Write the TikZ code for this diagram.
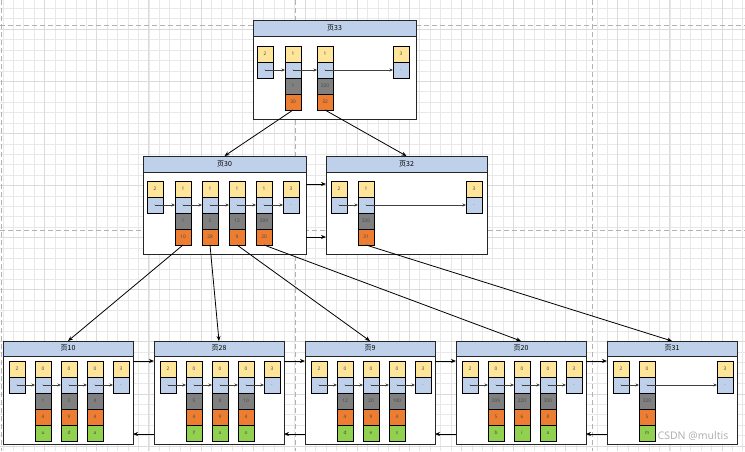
\documentclass[tikz,border=0pt]{standalone}
\usepackage{fontspec}
\setmainfont{Noto Sans}
\newfontfamily\cjk{Noto Sans CJK SC}
\usetikzlibrary{positioning}
\usetikzlibrary{arrows.meta}
\definecolor{hdblue}{RGB}{191,209,234}
\definecolor{ylw}{RGB}{255,229,153}
\definecolor{orng}{RGB}{237,125,49}
\definecolor{grn}{RGB}{146,208,80}
\definecolor{gry}{RGB}{128,128,128}
\tikzstyle{pagebody} = [rectangle, draw=black!85, line width=0.9pt, fill=white, anchor=north west, inner sep=0pt, outer sep=0pt]
\tikzstyle{pagehead} = [rectangle, draw=black!85, line width=0.9pt, fill=hdblue, anchor=north west, minimum height=16pt, inner sep=0pt, outer sep=0pt, font=\cjk\fontsize{7}{8}\selectfont]
\tikzstyle{cell} = [rectangle, draw=black, line width=0.7pt, minimum width=16pt, minimum height=16pt, inner sep=0pt, outer sep=0pt, text=black!70, font=\fontsize{4.8}{5}\selectfont]
\tikzstyle{ylwcell} = [cell, fill=ylw]
\tikzstyle{blucell} = [cell, fill=hdblue]
\tikzstyle{grycell} = [cell, fill=gry]
\tikzstyle{orgcell} = [cell, fill=orng]
\tikzstyle{grncell} = [cell, fill=grn]
\tikzstyle{nxt} = [-{Stealth[length=3.5pt,width=3pt]}, line width=0.8pt, black!75]
\tikzstyle{link} = [-{Stealth[length=5pt,width=4pt]}, line width=0.8pt, black]
\tikzstyle{gridminor} = [line width=0.5pt, black!9]
\tikzstyle{gridmajor} = [line width=0.6pt, black!14]
\tikzstyle{pagebreak} = [line width=0.6pt, black!30, dash pattern=on 5pt off 3pt]
% infimum / supremum
\newcommand{\bnd}[4]{%
  \node[ylwcell] (#1) at (#2,#3) {#4};
  \node[blucell, below=0pt of #1] (#1n) {\textbf{·}};}
% record of a non-leaf page
\newcommand{\irec}[6]{%
  \bnd{#1}{#2}{#3}{#4}
  \node[grycell, below=0pt of #1n] (#1k) {#5};
  \node[orgcell, below=0pt of #1k] (#1c) {#6};}
% record of a leaf page
\newcommand{\lrec}[7]{%
  \irec{#1}{#2}{#3}{#4}{#5}{#6}
  \node[grncell, below=0pt of #1c] (#1v) {#7};}

\begin{document}
\begin{tikzpicture}[x=1pt,y=-1pt]
  \useasboundingbox (0,0) rectangle (745,451);
  \fill[white] (0,0) rectangle (745,451);
  \foreach \k in {-1,...,70} \draw[gridminor] ({13.3+10.42*\k},0) -- ++(0,451);
  \foreach \k in {-1,...,42} \draw[gridminor] (0,{8.3+10.42*\k}) -- ++(745,0);
  \foreach \k in {3,8,...,68} \draw[gridmajor] ({13.3+10.42*\k},0) -- ++(0,451);
  \foreach \k in {2,7,...,42} \draw[gridmajor] (0,{8.3+10.42*\k}) -- ++(745,0);
  \draw[pagebreak] (1,0) -- (1,451);
  \draw[pagebreak] (295,0) -- (295,451);
  \draw[pagebreak] (592,0) -- (592,451);
  \draw[pagebreak] (0,25) -- (745,25);
  \draw[pagebreak] (0,230.7) -- (745,230.7);

  % root
  \node[pagebody, minimum width=163pt, minimum height=99pt] (p33) at (253,20) {};
  \node[pagehead, minimum width=163pt] (p33h) at (253,20) {页33};
  \bnd{p33a}{265}{54}{2}
  \irec{p33b}{293}{54}{1}{1}{30}
  \irec{p33c}{325}{54}{1}{320}{32}
  \bnd{p33d}{401}{54}{3}
  \draw[nxt] (p33an.center) -- (p33bn.west);
  \draw[nxt] (p33bn.center) -- (p33cn.west);
  \draw[nxt] (p33cn.center) -- (p33dn.west);

  % level 1
  \node[pagebody, minimum width=163pt, minimum height=98pt] (p30) at (143,156) {};
  \node[pagehead, minimum width=163pt] (p30h) at (143,156) {页30};
  \bnd{p30a}{155}{189}{2}
  \irec{p30b}{183}{189}{1}{1}{10}
  \irec{p30c}{210}{189}{1}{5}{28}
  \irec{p30d}{237}{189}{1}{12}{9}
  \irec{p30e}{264}{189}{1}{209}{20}
  \bnd{p30f}{291}{189}{3}
  \draw[nxt] (p30an.center) -- (p30bn.west);
  \draw[nxt] (p30bn.center) -- (p30cn.west);
  \draw[nxt] (p30cn.center) -- (p30dn.west);
  \draw[nxt] (p30dn.center) -- (p30en.west);
  \draw[nxt] (p30en.center) -- (p30fn.west);

  \node[pagebody, minimum width=161pt, minimum height=98pt] (p32) at (326,156) {};
  \node[pagehead, minimum width=161pt] (p32h) at (326,156) {页32};
  \bnd{p32a}{339}{189}{2}
  \irec{p32b}{366}{189}{1}{320}{31}
  \bnd{p32c}{474}{189}{3}
  \draw[nxt] (p32an.center) -- (p32bn.west);
  \draw[nxt] (p32bn.center) -- (p32cn.west);

  % leaves
  \node[pagebody, minimum width=130pt, minimum height=103pt] (p10) at (3,341) {};
  \node[pagehead, minimum width=130pt, minimum height=15pt] (p10h) at (3,341) {页10};
  \bnd{p10a}{17}{369}{2}
  \lrec{p10b}{43}{369}{0}{1}{4}{u}
  \lrec{p10c}{69}{369}{0}{3}{9}{d}
  \lrec{p10d}{95}{369}{0}{4}{4}{a}
  \bnd{p10e}{121}{369}{3}
  \draw[nxt] (p10an.center) -- (p10bn.west);
  \draw[nxt] (p10bn.center) -- (p10cn.west);
  \draw[nxt] (p10cn.center) -- (p10dn.west);
  \draw[nxt] (p10dn.center) -- (p10en.west);

  \node[pagebody, minimum width=130pt, minimum height=103pt] (p28) at (154,341) {};
  \node[pagehead, minimum width=130pt, minimum height=15pt] (p28h) at (154,341) {页28};
  \bnd{p28a}{168}{369}{2}
  \lrec{p28b}{194}{369}{0}{5}{4}{y}
  \lrec{p28c}{220}{369}{0}{8}{9}{a}
  \lrec{p28d}{246}{369}{0}{10}{4}{o}
  \bnd{p28e}{272}{369}{3}
  \draw[nxt] (p28an.center) -- (p28bn.west);
  \draw[nxt] (p28bn.center) -- (p28cn.west);
  \draw[nxt] (p28cn.center) -- (p28dn.west);
  \draw[nxt] (p28dn.center) -- (p28en.west);

  \node[pagebody, minimum width=130pt, minimum height=103pt] (p9) at (305,341) {};
  \node[pagehead, minimum width=130pt, minimum height=15pt] (p9h) at (305,341) {页9};
  \bnd{p9a}{319}{369}{2}
  \lrec{p9b}{345}{369}{0}{12}{4}{d}
  \lrec{p9c}{371}{369}{0}{20}{9}{e}
  \lrec{p9d}{397}{369}{0}{100}{4}{s}
  \bnd{p9e}{423}{369}{3}
  \draw[nxt] (p9an.center) -- (p9bn.west);
  \draw[nxt] (p9bn.center) -- (p9cn.west);
  \draw[nxt] (p9cn.center) -- (p9dn.west);
  \draw[nxt] (p9dn.center) -- (p9en.west);

  \node[pagebody, minimum width=130pt, minimum height=103pt] (p20) at (456,341) {};
  \node[pagehead, minimum width=130pt, minimum height=15pt] (p20h) at (456,341) {页20};
  \bnd{p20a}{470}{369}{2}
  \lrec{p20b}{496}{369}{0}{209}{5}{b}
  \lrec{p20c}{522}{369}{0}{220}{6}{i}
  \lrec{p20d}{548}{369}{0}{300}{8}{a}
  \bnd{p20e}{574}{369}{3}
  \draw[nxt] (p20an.center) -- (p20bn.west);
  \draw[nxt] (p20bn.center) -- (p20cn.west);
  \draw[nxt] (p20cn.center) -- (p20dn.west);
  \draw[nxt] (p20dn.center) -- (p20en.west);

  \node[pagebody, minimum width=130pt, minimum height=103pt] (p31) at (607,341) {};
  \node[pagehead, minimum width=130pt, minimum height=15pt] (p31h) at (607,341) {页31};
  \bnd{p31a}{621}{369}{2}
  \lrec{p31b}{647}{369}{0}{320}{5}{m}
  \bnd{p31c}{725}{369}{3}
  \draw[nxt] (p31an.center) -- (p31bn.west);
  \draw[nxt] (p31bn.center) -- (p31cn.west);

  % child pointers
  \draw[link] (p33bc.south) -- (p30.north);
  \draw[link] (p33cc.south) -- (p32.north);
  \draw[link] (p30bc.south) -- (p10.north);
  \draw[link] (p30cc.south) -- (p28.north);
  \draw[link] (p30dc.south) -- (p9.north);
  \draw[link] (p30ec.south) -- (p20.north);
  \draw[link] (p32bc.south) -- (p31.north);

  % sibling links
  \draw[link] ([yshift=-28pt]p30.north east) -- ([yshift=-28pt]p32.north west);
  \draw[link] ([yshift=-81pt]p30.north east) -- ([yshift=-81pt]p32.north west);
  \draw[link] ([yshift=-20pt]p10.north east) -- ([yshift=-20pt]p28.north west);
  \draw[link] ([yshift=-93pt]p28.north west) -- ([yshift=-93pt]p10.north east);
  \draw[link] ([yshift=-20pt]p28.north east) -- ([yshift=-20pt]p9.north west);
  \draw[link] ([yshift=-93pt]p9.north west) -- ([yshift=-93pt]p28.north east);
  \draw[link] ([yshift=-20pt]p9.north east) -- ([yshift=-20pt]p20.north west);
  \draw[link] ([yshift=-93pt]p20.north west) -- ([yshift=-93pt]p9.north east);
  \draw[link] ([yshift=-20pt]p20.north east) -- ([yshift=-20pt]p31.north west);
  \draw[link] ([yshift=-93pt]p31.north west) -- ([yshift=-93pt]p20.north east);

  \node[font=\fontsize{10.5}{12}\selectfont, text=black!30] (wm) at (693,436) {CSDN @multis};
\end{tikzpicture}
\end{document}
